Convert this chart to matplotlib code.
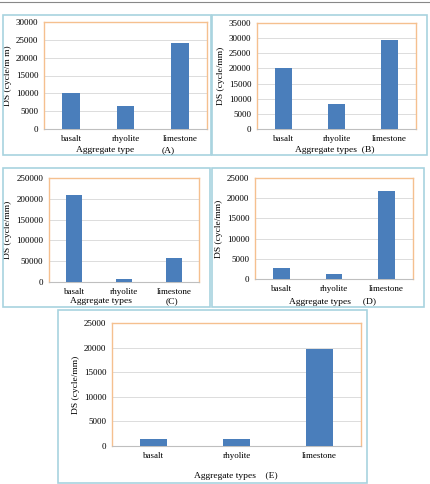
import matplotlib
matplotlib.use("Agg")
import matplotlib.pyplot as plt
from matplotlib.patches import Rectangle

W, H = 431, 484

categories = ["basalt", "rhyolite", "limestone"]

ds_a = [10200, 6500, 24200]
ds_b = [20200, 8400, 29300]
ds_c = [209000, 8000, 58000]
ds_d = [2800, 1300, 21700]
ds_e = [1500, 1400, 19700]

ymax_a, ystep_a = 30000, 5000
ymax_b, ystep_b = 35000, 5000
ymax_c, ystep_c = 250000, 50000
ymax_d, ystep_d = 25000, 5000
ymax_e, ystep_e = 25000, 5000

BAR = "#4a7ebb"
FRAME = "#f5c08f"
BOX = "#a8d3df"
GRID = "#dcdcdc"
FONT = "Liberation Serif"

plt.rcParams["font.family"] = FONT
fig = plt.figure(figsize=(W / 100, H / 100), dpi=100)


def px_axes(x0, y0, x1, y1):
    # pixel box (top-left origin) -> figure fraction
    return fig.add_axes([x0 / W, 1 - y1 / H, (x1 - x0) / W, (y1 - y0) / H])


def box(x0, y0, x1, y1):
    fig.patches.append(Rectangle((x0 / W, 1 - y1 / H), (x1 - x0) / W, (y1 - y0) / H,
                                 transform=fig.transFigure, fill=False,
                                 ec=BOX, lw=1.2))


def ftext(x, y, s, **kw):
    fig.text(x / W, 1 - y / H, s, fontsize=6.8, ha="center", va="center", **kw)


def panel(rect, values, ymax, ystep, ylabel="DS (cycle/mm)"):
    ax = px_axes(*rect)
    ax.bar(range(len(categories)), values, width=0.32, color=BAR, zorder=3)
    ax.set_xlim(-0.5, len(categories) - 0.5)
    ax.set_ylim(0, ymax)
    ax.set_yticks(range(0, ymax + 1, ystep))
    ax.set_xticks(range(len(categories)))
    ax.set_xticklabels(categories)
    ax.grid(axis="y", color=GRID, lw=0.7, zorder=0)
    ax.tick_params(length=0, labelsize=6.5, pad=4)
    for s in ["top", "right", "left"]:
        ax.spines[s].set_color(FRAME)
        ax.spines[s].set_linewidth(1.0)
    ax.spines["bottom"].set_color("#bfbfbf")
    ax.set_ylabel(ylabel, fontsize=6.8, labelpad=3)
    return ax


# caption rule at the very top
fig.add_artist(plt.Line2D([0, 1], [1 - 2 / H, 1 - 2 / H], transform=fig.transFigure,
                          color="#888888", lw=0.8))

# (A)
box(3, 15, 211, 155)
panel((44, 22, 207, 129), ds_a, ymax_a, ystep_a, "DS (cycle/m m)")
ftext(105, 150, "Aggregate type")
ftext(168, 150, "(A)")

# (B)
box(212, 15, 427, 155)
panel((257, 23, 416, 129), ds_b, ymax_b, ystep_b)
ftext(335, 150, "Aggregate types  (B)")

# (C)
box(3, 168, 210, 307)
panel((49, 178, 199, 282), ds_c, ymax_c, ystep_c)
ftext(101, 301, "Aggregate types")
ftext(172, 301, "(C)")

# (D)
box(212, 168, 424, 307)
panel((255, 178, 413, 279), ds_d, ymax_d, ystep_d)
ftext(333, 302, "Aggregate types     (D)")

# (E)
box(58, 310, 367, 483)
panel((112, 323, 361, 446), ds_e, ymax_e, ystep_e)
ftext(236, 476, "Aggregate types    (E)")

fig.savefig("out.png", dpi=100)
